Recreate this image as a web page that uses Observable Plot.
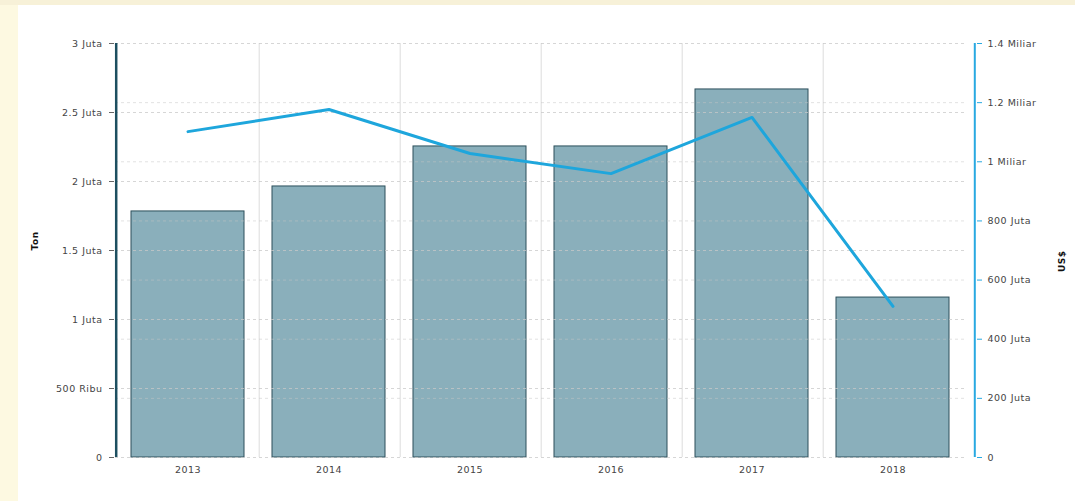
<!DOCTYPE html>
<html>
<head>
<meta charset="utf-8">
<script src="https://cdn.jsdelivr.net/npm/d3@7"></script>
<script src="https://cdn.jsdelivr.net/npm/@observablehq/plot@0.6"></script>
<style>
  html, body { margin: 0; padding: 0; background: #ffffff; }
  #wrap { position: relative; width: 1075px; height: 501px; overflow: hidden;
    background: linear-gradient(#f7f1d8 0 5px, transparent 5px), linear-gradient(to right, #fdf9e1 0 18px, #ffffff 18px); }
  #wrap svg { position: absolute; left: 0; top: 0; }
  #wrap svg text { letter-spacing: 0.5px; }
</style>
</head>
<body>
<div id="wrap"></div>
<script>
const years = ["2013", "2014", "2015", "2016", "2017", "2018"];
const volumeTon = [1783000, 1964000, 2254000, 2254000, 2667000, 1159000];
const valueUSD = [1102000000, 1177000000, 1028000000, 960000000, 1150000000, 511000000];
const leftTicks = [0, 500000, 1000000, 1500000, 2000000, 2500000, 3000000];
const leftTickLabels = ["0", "500 Ribu", "1 Juta", "1.5 Juta", "2 Juta", "2.5 Juta", "3 Juta"];
const rightTicks = [0, 200000000, 400000000, 600000000, 800000000, 1000000000, 1200000000, 1400000000];
const rightTickLabels = ["0", "200 Juta", "400 Juta", "600 Juta", "800 Juta", "1 Miliar", "1.2 Miliar", "1.4 Miliar"];
const leftMax = 3000000, rightMax = 1400000000;

const k = leftMax / rightMax;
const rows = years.map((y, i) => ({year: y, ton: volumeTon[i], usd: valueUSD[i], usdScaled: valueUSD[i] * k}));
const rightScaled = rightTicks.map(t => t * k);
const bounds = years.slice(1);
const step = 141.6;

const chart = Plot.plot({
  width: 1075,
  height: 501,
  marginLeft: 115,
  marginRight: 110,
  marginTop: 43,
  marginBottom: 44,
  style: {background: "transparent", fontFamily: "DejaVu Sans, Verdana, sans-serif", fontSize: "9.5px", color: "#444"},
  x: {domain: years, paddingInner: 0.2, paddingOuter: 0.1, label: null},
  y: {domain: [0, leftMax], label: null},
  marks: [
    Plot.tickX(bounds, {x: d => d, dx: -step / 2 + 1, stroke: "#dcdcdc", strokeWidth: 1}),
    Plot.barY(rows, {x: "year", y: "ton", fill: "#8aafbb", stroke: "#2c4f5b", strokeWidth: 1}),
    Plot.ruleY(leftTicks, {stroke: "#c8c8c8", strokeDasharray: "3,3", strokeOpacity: 0.75}),
    Plot.ruleY(rightScaled.filter(t => t > 0 && t < leftMax), {stroke: "#c8c8c8", strokeDasharray: "3,3", strokeOpacity: 0.5}),
    Plot.line(rows, {x: "year", y: "usdScaled", stroke: "#1ea6dc", strokeWidth: 3, strokeLinejoin: "round"}),
    Plot.axisX({tickSize: 0, tickPadding: 9, fontSize: 9.5, label: null}),
    Plot.axisY({ticks: leftTicks, tickFormat: d => leftTickLabels[leftTicks.indexOf(d)], tickSize: 5, tickPadding: 7, dx: -1, stroke: "#666", label: null}),
    Plot.ruleX([years[0]], {dx: -step / 2 - 1, y1: 0, y2: leftMax, stroke: "#1d4f60", strokeWidth: 2.5}),
    Plot.axisY(rightScaled, {anchor: "right", dx: 11, tickFormat: d => rightTickLabels[rightScaled.indexOf(d)], tickSize: 5, tickPadding: 6, stroke: "#29a9e1", label: null}),
    Plot.ruleX([years[5]], {dx: step / 2 + 11, y1: 0, y2: leftMax, stroke: "#29a9e1", strokeWidth: 2}),
    Plot.text(["Ton"], {frameAnchor: "left", dx: -80, rotate: -90, fontWeight: "bold", fontSize: 9, fill: "#111"}),
    Plot.text(["US$"], {frameAnchor: "right", dx: 97, rotate: -90, fontWeight: "bold", fontSize: 9, fill: "#111"})
  ]
});
document.getElementById("wrap").appendChild(chart);
</script>
</body>
</html>
